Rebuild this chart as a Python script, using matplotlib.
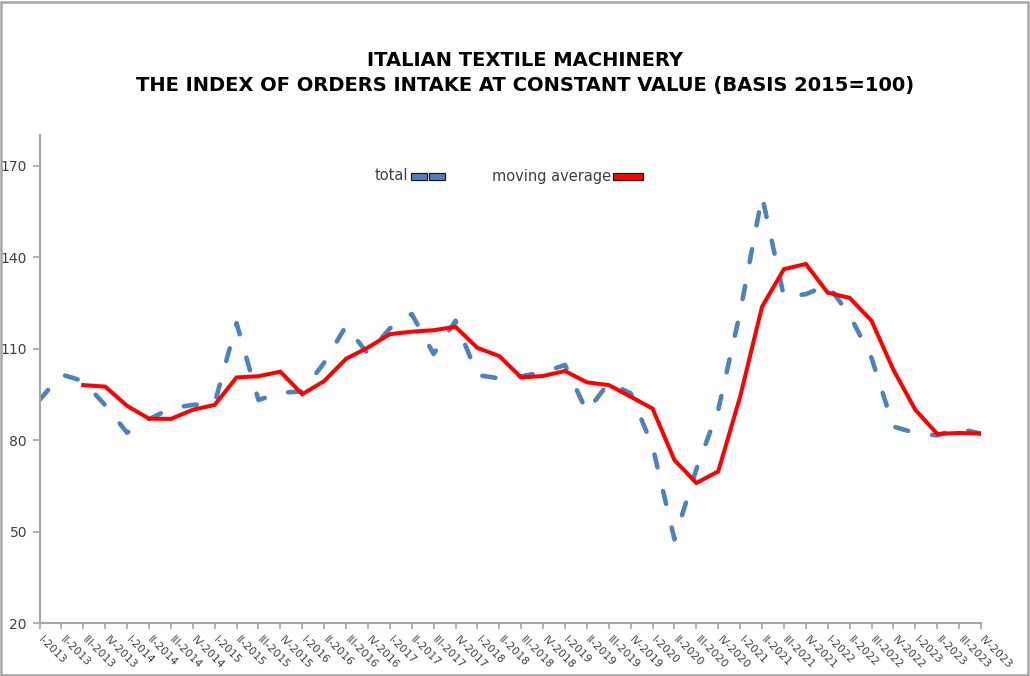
import numpy as np
import matplotlib
matplotlib.use("Agg")
import matplotlib.pyplot as plt
import matplotlib.transforms as mtransforms
from matplotlib.patches import Rectangle

# quarters I-2013 .. IV-2023
years = list(range(2013, 2024))
quarters = ["I", "II", "III", "IV"]
labels = [f"{q}-{y}" for y in years for q in quarters]

total = [93.2, 101.6, 99.4, 91.5, 82.5, 86.9, 90.5, 91.6, 92.1, 118.4, 93.2,
         95.6, 96.0, 105.4, 117.5, 108.3, 116.7, 121.4, 108.3, 119.2, 101.4, 100.3,
         101.0, 102.3, 104.7, 89.4, 98.9, 95.4, 78.0, 47.5, 70.5, 90.0, 122.0,
         160.0, 127.1, 127.9, 130.9, 121.1, 107.0, 84.5, 82.4, 81.6, 83.8, 82.2]

# moving average starts at III-2013
mov_avg = [None, None, 98.1, 97.6, 91.3, 87.1, 87.0, 90.0, 91.6, 100.6, 101.0,
           102.5, 95.1, 99.4, 106.7, 110.4, 114.8, 115.6, 116.1, 117.2, 110.3, 107.6,
           100.6, 101.1, 102.7, 99.0, 98.1, 94.3, 90.4, 73.5, 66.0, 69.8, 94.3,
           123.8, 136.1, 137.8, 128.4, 126.7, 119.2, 103.1, 90.0, 82.1, 82.4, 82.2]

yticks = [20, 50, 80, 110, 140, 170]

blue = "#4f81bd"
red = "#ff0000"
grey = "#a6a6a6"
txt = "#404040"

plt.rcParams["font.family"] = ["DejaVu Sans"]
plt.rcParams["lines.scale_dashes"] = False

fig = plt.figure(figsize=(10.3, 6.76), dpi=100)
ax = fig.add_axes([39.5 / 1030, 52.7 / 676, (981 - 39.5) / 1030, (623.3 - 135.3) / 676])

x = np.arange(len(labels))
ma = np.array([np.nan if v is None else v for v in mov_avg])

ax.plot(x, total, color=blue, lw=3.3, dashes=(9.5, 17.5), dash_capstyle="round",
        solid_capstyle="round", zorder=2)
ax.plot(x, ma, color=red, lw=2.9, solid_joinstyle="miter", zorder=3)

ax.set_xlim(0, len(labels) - 1)
ax.set_ylim(20, 180)
ax.set_yticks(yticks)
ax.set_xticks(x)
ax.set_xticklabels(labels, rotation=-45, ha="left", va="top", rotation_mode="anchor",
                   fontsize=7.8, color=txt)
ax.tick_params(axis="y", labelsize=10, labelcolor=txt, color=grey, length=5, width=1.2, pad=4)
ax.tick_params(axis="x", color=grey, length=4, width=1.2, pad=4)
# nudge the slanted labels a little to the right
shift = mtransforms.ScaledTranslation(4 / 100, 0, fig.dpi_scale_trans)
for lbl in ax.get_xticklabels():
    lbl.set_transform(lbl.get_transform() + shift)

for s in ["top", "right"]:
    ax.spines[s].set_visible(False)
for s in ["left", "bottom"]:
    ax.spines[s].set_color(grey)
    ax.spines[s].set_linewidth(1.5)

fig.text(525 / 1030, 1 - 60 / 676, "ITALIAN TEXTILE MACHINERY", ha="center", va="center",
         fontsize=14, fontweight="bold", color="black")
fig.text(525 / 1030, 1 - 86 / 676, "THE INDEX OF ORDERS INTAKE AT CONSTANT VALUE (BASIS 2015=100)",
         ha="center", va="center", fontsize=14, fontweight="bold", color="black")

# legend
fig.text(408 / 1030, 1 - 176 / 676, "total", ha="right", va="center", fontsize=10.5, color=txt)
fig.text(611 / 1030, 1 - 176 / 676, "moving average", ha="right", va="center", fontsize=10.5, color=txt)
for x0, w, c in [(411, 16, blue), (429, 16, blue), (613, 30, red)]:
    fig.patches.append(Rectangle((x0 / 1030, 1 - 179.5 / 676), w / 1030, 6 / 676,
                                 transform=fig.transFigure, facecolor=c,
                                 edgecolor="#1a1a1a", lw=0.9))

# outer frame
fig.patches.append(Rectangle((0.001, 0.0015), 0.997, 0.996, transform=fig.transFigure,
                             fill=False, edgecolor=grey, lw=1.8))

fig.savefig("out.png", dpi=100)
